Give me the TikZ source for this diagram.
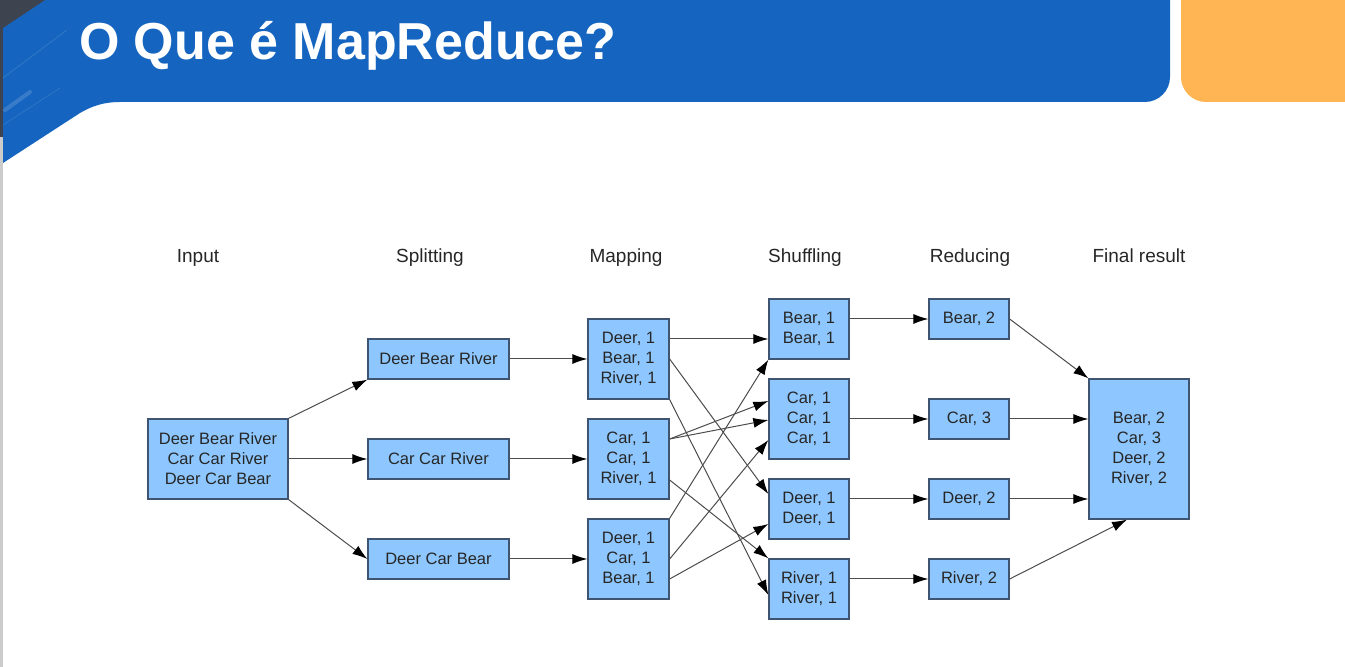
\documentclass[tikz,border=0pt]{standalone}
\usepackage{fontspec}
\setmainfont{Liberation Sans}
\usetikzlibrary{arrows.meta}

\definecolor{boxfill}{RGB}{142,199,255}
\definecolor{boxline}{RGB}{62,84,112}
\definecolor{bandblue}{RGB}{21,101,192}
\definecolor{bandorange}{RGB}{255,181,84}
\definecolor{edgedark}{RGB}{62,67,80}

\begin{document}
\begin{tikzpicture}[x=0.5pt, y=-0.5pt,
  box/.style={draw=boxline, line width=0.65pt, fill=boxfill, rectangle, inner sep=0pt,
    align=center, text=black!85, font=\fontsize{8.25}{10}\selectfont, minimum height=20pt},
  stage/.style={anchor=base, text=black!85, font=\fontsize{9.5}{11}\selectfont},
  flow/.style={draw=black!70, line width=0.5pt, -{Latex[length=7.5pt, width=5pt, color=black]}}]

\useasboundingbox (0,0) rectangle (1345,667);

% header
\fill[black!20] (0,137) rectangle (3,667);
\fill[edgedark] (0,0) rectangle (3,137);
\fill[bandblue] (3,0) -- (1170,0) -- (1170,77) .. controls (1170,90.8) and (1158.8,102) .. (1145,102)
  -- (120,102) .. controls (104,102) and (92,106) .. (80,113) -- (3,163) -- cycle;
\fill[edgedark] (3,0) -- (45,0) -- (3,28) -- cycle;
\draw[white, opacity=0.12] (3,78) -- (67,30);
\draw[white, opacity=0.15, line width=2pt, line cap=round] (5,110) -- (30,92);
\draw[white, opacity=0.1] (3,125) -- (60,88);
\fill[bandorange] (1181,0) -- (1345,0) -- (1345,102) -- (1206,102)
  .. controls (1192.2,102) and (1181,90.8) .. (1181,77) -- cycle;
\node[anchor=base west, text=white, font=\fontsize{26}{30}\selectfont\bfseries] (title) at (72,60) {O Que é MapReduce?};

% stage labels
\node[stage] (lblinput) at (198,263) {Input};
\node[stage] (lblsplit) at (430,263) {Splitting};
\node[stage] (lblmap) at (626,263) {Mapping};
\node[stage] (lblshuffle) at (805,263) {Shuffling};
\node[stage] (lblreduce) at (970,263) {Reducing};
\node[stage] (lblfinal) at (1139,263) {Final result};

% boxes
\node[box, minimum width=70pt, minimum height=40pt] (input) at (218,459) {Deer Bear River\\Car Car River\\Deer Car Bear};

\node[box, minimum width=70.5pt] (split1) at (438.5,359) {Deer Bear River};
\node[box, minimum width=70.5pt] (split2) at (438.5,459) {Car Car River};
\node[box, minimum width=70.5pt] (split3) at (438.5,559) {Deer Car Bear};

\node[box, minimum width=40.5pt, minimum height=40pt] (map1) at (628.5,359) {Deer, 1\\Bear, 1\\River, 1};
\node[box, minimum width=40.5pt, minimum height=40pt] (map2) at (628.5,459) {Car, 1\\Car, 1\\River, 1};
\node[box, minimum width=40.5pt, minimum height=40pt] (map3) at (628.5,559) {Deer, 1\\Car, 1\\Bear, 1};

\node[box, minimum width=40pt, minimum height=30pt] (shuf1) at (809,329) {Bear, 1\\Bear, 1};
\node[box, minimum width=40pt, minimum height=40pt] (shuf2) at (809,419) {Car, 1\\Car, 1\\Car, 1};
\node[box, minimum width=40pt, minimum height=30pt] (shuf3) at (809,509) {Deer, 1\\Deer, 1};
\node[box, minimum width=40pt, minimum height=30pt] (shuf4) at (809,589) {River, 1\\River, 1};

\node[box, minimum width=40pt] (red1) at (969,319) {Bear, 2};
\node[box, minimum width=40pt] (red2) at (969,419) {Car, 3};
\node[box, minimum width=40pt] (red3) at (969,499) {Deer, 2};
\node[box, minimum width=40pt] (red4) at (969,579) {River, 2};

\node[box, minimum width=50pt, minimum height=70pt] (final) at (1139,449) {Bear, 2\\Car, 3\\Deer, 2\\River, 2};

% input -> splitting
\draw[flow] (input.north east) -- (split1.south west);
\draw[flow] (input.east) -- (split2.west);
\draw[flow] (input.south east) -- (split3.west);

% splitting -> mapping
\draw[flow] (split1) -- (map1);
\draw[flow] (split2) -- (map2);
\draw[flow] (split3) -- (map3);

% mapping -> shuffling
\draw[flow] ([yshift=10pt]map1.east) -- ([yshift=-5pt]shuf1.west);
\draw[flow] (map1.east) -- ([yshift=7.5pt]shuf3.west);
\draw[flow] (map1.south east) -- ([yshift=-3pt]shuf4.west);
\draw[flow] ([yshift=10pt]map2.east) -- ([yshift=9pt]shuf2.west);
\draw[flow] ([yshift=10pt]map2.east) -- ([yshift=-0.5pt]shuf2.west);
\draw[flow] ([yshift=-10.5pt]map2.east) -- (shuf4.north west);
\draw[flow] (map3.north east) -- (shuf1.south west);
\draw[flow] (map3.east) -- ([yshift=-10.5pt]shuf2.west);
\draw[flow] ([yshift=-10pt]map3.east) -- ([yshift=-7.5pt]shuf3.west);

% shuffling -> reducing
\draw[flow] ([yshift=5pt]shuf1.east) -- (red1.west);
\draw[flow] (shuf2) -- (red2);
\draw[flow] ([yshift=5pt]shuf3.east) -- (red3.west);
\draw[flow] ([yshift=5pt]shuf4.east) -- (red4.west);

% reducing -> final result
\draw[flow] (red1.east) -- (final.north west);
\draw[flow] (red2.east) -- ([yshift=15pt]final.west);
\draw[flow] (red3.east) -- ([yshift=-25pt]final.west);
\draw[flow] (red4.east) -- ([xshift=-6pt]final.south);

\end{tikzpicture}
\end{document}
